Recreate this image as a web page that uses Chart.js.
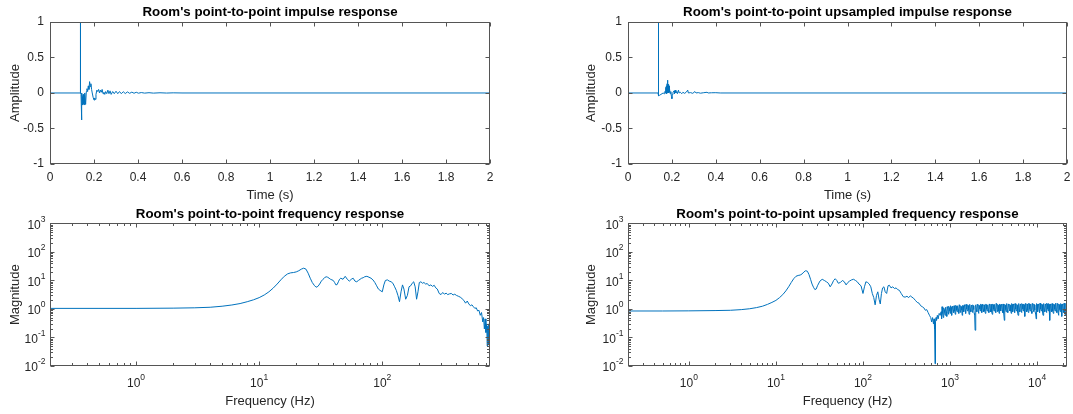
<!DOCTYPE html>
<html lang="en">
<head>
  <meta charset="UTF-8" />
  <title>Room point-to-point response</title>
  <script src="https://cdn.jsdelivr.net/npm/chart.js"></script>
  <style>
    body { margin: 0; background: #fff; }
    #fig { position: relative; width: 1073px; height: 414px; }
    #fig canvas { position: absolute; }
  </style>
</head>
<body>
  <div id="fig">
    <canvas id="irPlot" width="536" height="207" style="left:0;top:0"></canvas>
    <canvas id="irUpPlot" width="537" height="207" style="left:536px;top:0"></canvas>
    <canvas id="frPlot" width="536" height="214" style="left:0;top:200px"></canvas>
    <canvas id="frUpPlot" width="537" height="214" style="left:536px;top:200px"></canvas>
  </div>

  <script>
    // ---- tick values ----
    const timeTicks = [0, 0.2, 0.4, 0.6, 0.8, 1, 1.2, 1.4, 1.6, 1.8, 2];
    const ampTicks = [-1, -0.5, 0, 0.5, 1];
    const magTicks = [0.01, 0.1, 1, 10, 100, 1000];
    const freqTicks = [1, 10, 100];
    const freqUpTicks = [1, 10, 100, 1000, 10000];

    // ---- impulse response (s, amplitude) ----
    const irTime = [
      0, 0.137, 0.138, 0.139, 0.141, 0.143, 0.145, 0.147, 0.149, 0.151,
      0.153, 0.155, 0.157, 0.159, 0.162, 0.165, 0.168, 0.171, 0.174, 0.177,
      0.180, 0.183, 0.186, 0.189, 0.192, 0.196, 0.200, 0.203, 0.206, 0.209,
      0.213, 0.217, 0.221, 0.225, 0.229, 0.233, 0.237, 0.241, 0.245, 0.249,
      0.253, 0.258, 0.263, 0.268, 0.273, 0.278, 0.285, 0.292, 0.300, 0.308,
      0.316, 0.324, 0.333, 0.342, 0.352, 0.362, 0.372, 0.382, 0.392, 0.402,
      0.415, 0.430, 0.450, 0.470, 0.500, 0.530, 0.560, 0.600, 2.0
    ];
    const irAmp = [
      0, 0, 1, 0, -0.02, -0.38, 0, -0.05, -0.17, -0.02,
      -0.15, -0.03, -0.17, 0, -0.16, 0.02, 0.06, 0.02, 0.1, 0.05,
      0.16, 0.09, 0.13, 0.05, 0, -0.06, -0.1, -0.07, -0.09, -0.02,
      0.04, 0.02, 0.05, 0, 0.04, 0.01, 0.05, -0.01, 0.01, -0.02,
      0.02, -0.01, 0.04, -0.01, 0.03, -0.02, 0.02, -0.01, 0.025, -0.01,
      0.02, -0.01, 0.018, -0.008, 0.015, -0.005, 0.012, -0.004, 0.01, -0.003,
      0.006, -0.002, 0.004, -0.002, 0.003, -0.001, 0.002, 0, 0
    ];

    // ---- upsampled impulse response ----
    const irUpTime = [
      0, 0.137, 0.138, 0.139, 0.140, 0.145, 0.150, 0.155, 0.160, 0.165,
      0.168, 0.170, 0.172, 0.173, 0.175, 0.176, 0.178, 0.179, 0.181, 0.182,
      0.184, 0.185, 0.187, 0.188, 0.190, 0.192, 0.195, 0.198, 0.200, 0.202,
      0.205, 0.210, 0.212, 0.215, 0.218, 0.222, 0.225, 0.230, 0.233, 0.238,
      0.245, 0.250, 0.258, 0.265, 0.272, 0.275, 0.285, 0.295, 0.305, 0.310,
      0.320, 0.330, 0.345, 0.360, 0.365, 0.380, 0.400, 0.420, 2.0
    ];
    const irUpAmp = [
      0, 0, 1, 0, -0.04, -0.03, -0.02, -0.01, 0, -0.01,
      0.02, 0, 0.08, 0, 0.1, -0.01, 0.13, 0, 0.18, 0.02,
      0.12, 0, 0.1, 0.01, 0.06, -0.01, 0.02, -0.05, -0.08, -0.02,
      0.01, 0.03, -0.01, 0.04, 0, 0.02, -0.01, 0.04, 0, 0.01,
      -0.01, 0.01, -0.005, 0.01, 0.04, 0, 0.005, -0.005, 0.02, 0,
      0.005, -0.003, 0.004, 0.01, 0, 0.003, 0.004, 0, 0
    ];

    // ---- frequency response (Hz, magnitude) ----
    const frFreq = [
      0.2, 0.5, 1, 2, 3, 4, 5, 6, 7, 8,
      9, 10, 11, 12, 13, 14, 15, 16, 17, 18,
      19, 20, 21, 22, 23, 24, 25, 26, 27, 28,
      29, 30, 31, 32, 33, 34, 35, 36, 37, 38,
      39, 40, 41, 42, 43, 44, 45, 46, 48, 50,
      52, 54, 56, 58, 60, 62, 64, 66, 68, 70,
      72, 75, 78, 81, 84, 87, 90, 93, 96, 100,
      103, 106, 110, 114, 118, 122, 126, 130, 134, 138,
      142, 146, 150, 155, 160, 165, 170, 175, 180, 185,
      190, 195, 200, 206, 212, 218, 225, 232, 240, 248,
      256, 264, 272, 280, 290, 300, 310, 320, 330, 340,
      352, 364, 376, 388, 400, 415, 430, 445, 460, 475,
      490, 505, 520, 535, 550, 565, 580, 595, 610, 625,
      640, 655, 665, 675, 685, 695, 705, 712, 718, 724,
      730, 736, 742, 746, 750
    ];
    const frMag = [
      1.05, 1.05, 1.05, 1.07, 1.1, 1.15, 1.25, 1.38, 1.55, 1.8,
      2.1, 2.5, 3.1, 4.0, 5.4, 7.5, 10.5, 14, 17, 18.5,
      19, 20, 22, 25, 27, 25, 18, 12, 8.5, 6.8,
      5.8, 6.2, 7.5, 9.5, 11, 12.5, 13.5, 13, 12, 11,
      10.5, 10, 8.5, 7, 7.2, 9, 11, 12, 11, 14,
      11, 9.5, 11, 12, 9.5, 9, 10, 11, 12, 12.5,
      13.5, 14, 13, 12, 10.5, 8.5, 6.5, 5, 4.5, 4,
      7, 10, 10.5, 9.5, 9, 8, 6, 4.5, 3, 1.8,
      4, 7, 5, 2.2, 3, 6, 6.5, 8, 9, 6,
      2.2, 4, 8.5, 9, 8, 8.5, 7.5, 7.8, 6.5, 7,
      6.2, 6.8, 5.5, 5, 3.5, 3.2, 3.8, 3.3, 3.6, 3.2,
      3.4, 3.5, 3.1, 3.3, 3, 2.8, 2.6, 2.3, 2.0, 1.6,
      1.9, 1.5, 1.3, 1.4, 1.2, 1.05, 1.1, 0.85, 0.9, 0.6,
      0.75, 0.35, 0.5, 0.2, 0.45, 0.15, 0.3, 0.05, 0.25, 0.1,
      0.3, 0.06, 0.2, 0.08, 0.012
    ];

    // ---- upsampled frequency response: room part ----
    const frUpFreq = [
      0.2, 0.5, 1, 2, 3, 4, 5, 6, 7, 8,
      9, 10, 11, 12, 13, 14, 15, 16, 17, 18,
      19, 20, 21, 22, 23, 24, 25, 26, 27, 28,
      29, 30, 32, 34, 36, 38, 40, 42, 44, 46,
      48, 50, 52, 55, 58, 61, 64, 67, 70, 74,
      78, 82, 86, 90, 95, 100, 104, 108, 113, 118,
      123, 128, 133, 138, 143, 148, 153, 158, 163, 168,
      174, 180, 187, 194, 201, 210, 220, 230, 240, 250,
      262, 275, 290, 305, 320, 335, 350, 365, 380, 400,
      420, 440, 460, 480, 500, 520, 540, 560, 580, 600,
      615, 630, 645, 655, 665, 672, 678, 684, 690, 700,
      715, 730, 750, 770, 790
    ];
    const frUpMag = [
      0.85, 0.85, 0.86, 0.88, 0.9, 0.95, 1.02, 1.12, 1.25, 1.45,
      1.7, 2.0, 2.5, 3.2, 4.3, 6, 8.5, 11.5, 14, 15,
      15.5, 17, 20, 22, 21, 16, 11, 7.5, 5.8, 4.8,
      5, 6.5, 9.5, 11, 10, 9, 8, 6, 7.5, 10,
      11.5, 10, 8, 8.5, 10, 9, 7, 8.5, 9.5, 10.5,
      11, 10, 9, 7.5, 6.5, 3.5, 6, 9, 8.5, 7.5,
      6, 3.5, 2.5, 1.4, 3, 4, 2.2, 1.5, 3.5, 5.5,
      6, 4, 3.5, 6.5, 6.8, 5.5, 6, 5.2, 5.5, 4.8,
      4.5, 3.5, 2.7, 2.6, 2.8, 2.5, 2.9, 2.6, 2.4, 2.0,
      1.7, 1.6, 1.3, 1.2, 1.1, 0.9, 0.95, 0.75, 0.6, 0.5,
      0.35, 0.5, 0.3, 0.45, 0.2, 0.012, 0.15, 0.35, 0.5, 0.4,
      0.6, 0.45, 0.7, 0.6, 0.8
    ];

    // ---- upsampled frequency response: noisy band above 800 Hz ----
    const bandFreq = [
      800, 818, 837, 856, 876, 896, 917, 938, 959, 981,
      1004, 1027, 1050, 1074, 1099, 1124, 1150, 1177, 1204, 1231,
      1260, 1289, 1318, 1349, 1380, 1411, 1444, 1477, 1511, 1546,
      1581, 1618, 1655, 1693, 1732, 1772, 1812, 1854, 1897, 1940,
      1985, 2030, 2077, 2125, 2174, 2224, 2275, 2327, 2381, 2435,
      2491, 2549, 2607, 2667, 2729, 2791, 2856, 2921, 2989, 3057,
      3128, 3200, 3273, 3348, 3425, 3504, 3585, 3667, 3752, 3838,
      3926, 4016, 4109, 4203, 4300, 4399, 4500, 4604, 4710, 4818,
      4929, 5042, 5158, 5277, 5398, 5522, 5649, 5779, 5912, 6048,
      6187, 6329, 6475, 6624, 6776, 6932, 7092, 7255, 7422, 7592,
      7767, 7946, 8128, 8315, 8507, 8702, 8903, 9107, 9317, 9531,
      9750, 9975, 10204, 10439, 10679, 10925, 11176, 11433, 11696, 11965,
      12240, 12522, 12810, 13104, 13406, 13714, 14030, 14352, 14682, 15020,
      15366, 15719, 16081, 16451, 16829, 17216, 17612, 18017, 18431, 18855,
      19289, 19733, 20187, 20651, 21126, 21612, 22050
    ];
    const bandMag = [
      0.45, 0.9, 0.5, 0.95, 0.6, 1.0, 0.55, 1.05, 0.65, 1.1,
      0.7, 1.15, 0.6, 1.2, 0.75, 1.1, 0.65, 1.25, 0.8, 1.2,
      0.7, 1.3, 0.75, 1.2, 0.6, 1.3, 0.8, 1.25, 0.7, 1.35,
      0.85, 1.3, 0.65, 1.35, 0.8, 1.25, 0.75, 1.3, 0.7, 0.18,
      1.3, 0.8, 1.35, 0.7, 1.3, 0.85, 1.4, 0.75, 1.3, 0.8,
      1.35, 0.7, 1.4, 0.85, 1.3, 0.75, 1.4, 0.8, 1.35, 0.65,
      1.4, 0.85, 1.35, 0.75, 1.45, 0.8, 1.35, 0.7, 1.4, 0.85,
      1.35, 0.75, 1.4, 0.4, 1.35, 0.8, 1.45, 0.75, 1.4, 0.85,
      1.35, 0.7, 1.45, 0.8, 1.4, 0.75, 1.45, 0.85, 1.35, 0.6,
      1.45, 0.8, 1.4, 0.75, 1.45, 0.85, 1.4, 0.55, 1.45, 0.8,
      1.4, 0.75, 1.5, 0.85, 1.4, 0.7, 1.45, 0.8, 1.4, 0.75,
      0.45, 1.45, 0.8, 1.4, 0.75, 1.5, 0.85, 1.4, 0.6, 1.45,
      0.8, 1.4, 0.75, 1.5, 0.85, 1.45, 0.4, 1.4, 0.8, 1.45,
      0.7, 1.4, 0.85, 1.5, 0.75, 1.45, 0.6, 1.4, 0.8, 1.45,
      0.55, 1.4, 0.75, 1.5, 0.6, 1.45, 0.8
    ];
    // in-between bins of the same band
    const bandMidFreq = [
      809, 827, 846, 866, 886, 906, 927, 948, 970, 992,
      1015, 1038, 1062, 1086, 1111, 1137, 1163, 1190, 1217, 1245,
      1274, 1303, 1333, 1364, 1395, 1427, 1460, 1494, 1528, 1563,
      1599, 1636, 1674, 1712, 1752, 1792, 1833, 1875, 1918, 1962,
      2007, 2053, 2101, 2149, 2199, 2249, 2301, 2354, 2408, 2463,
      2520, 2578, 2637, 2698, 2760, 2823, 2888, 2955, 3023, 3092,
      3164, 3236, 3310, 3386, 3464, 3544, 3626, 3709, 3795, 3882,
      3971, 4062, 4156, 4251, 4349, 4449, 4552, 4657, 4764, 4873,
      4985, 5100, 5217, 5337, 5460, 5585, 5714, 5845, 5980, 6117,
      6258, 6402, 6549, 6700, 6854, 7012, 7173, 7338, 7507, 7679,
      7856, 8037, 8221, 8411, 8604, 8802, 9005, 9212, 9424, 9640,
      9862, 10089, 10321, 10559, 10802, 11050, 11304, 11564, 11830, 12102,
      12381, 12666, 12957, 13255, 13560, 13872, 14191, 14517, 14851, 15193,
      15542, 15900, 16266, 16640, 17022, 17414, 17814, 18224, 18643, 19072,
      19511, 19960, 20419, 20888, 21369, 21831
    ];
    const bandMidMag = [
      1.2, 0.7, 1.1, 0.75, 1.15, 0.8, 1.2, 0.8, 1.25, 0.85,
      1.3, 0.8, 1.25, 0.9, 1.3, 0.85, 1.35, 0.9, 1.3, 0.95,
      1.4, 0.85, 1.3, 0.9, 1.35, 0.95, 1.4, 0.9, 1.45, 1.0,
      1.4, 0.9, 1.45, 0.95, 1.35, 0.85, 1.4, 0.95, 0.6, 1.4,
      0.95, 1.45, 0.9, 1.4, 1.0, 1.5, 0.9, 1.45, 0.95, 1.4,
      0.85, 1.5, 1.0, 1.4, 0.9, 1.5, 0.95, 1.45, 0.8, 1.5,
      1.0, 1.45, 0.9, 1.55, 0.95, 1.45, 0.85, 1.5, 1.0, 1.45,
      0.9, 1.5, 0.7, 1.45, 0.95, 1.55, 0.9, 1.5, 1.0, 1.45,
      0.85, 1.55, 0.95, 1.5, 0.9, 1.55, 1.0, 1.45, 0.75, 1.55,
      0.95, 1.5, 0.9, 1.55, 1.0, 1.5, 0.7, 1.55, 0.95, 1.5,
      0.9, 1.6, 1.0, 1.5, 0.85, 1.55, 0.95, 1.5, 0.9, 0.65,
      1.55, 0.95, 1.5, 0.9, 1.6, 1.0, 1.5, 0.75, 1.55, 0.95,
      1.5, 0.9, 1.6, 1.0, 1.55, 0.6, 1.5, 0.95, 1.55, 0.85,
      1.5, 1.0, 1.6, 0.9, 1.55, 0.75, 1.5, 0.95, 1.55, 0.7,
      1.5, 0.9, 1.6, 0.75, 1.55, 0.95
    ];

    const AXIS_COLOR = '#262626';
    const BOX_COLOR = '#555555';
    const LINE_COLOR = '#0072BD';
    const FONT = "'Liberation Sans', Arial, Helvetica, sans-serif";
    const TICK_SIZE = 12;
    const SUP_SIZE = 8.5;
    const LABEL_SIZE = 13;
    const TITLE_SIZE = 13.3;

    function toPoints(xs, ys) {
      return xs.map((x, i) => ({ x: x, y: ys[i] }));
    }

    // minor log ticks (2..9 x 10^n) between min and max
    function minorLog(min, max) {
      const out = [];
      for (let e = Math.floor(Math.log10(min)); e <= Math.ceil(Math.log10(max)); e++) {
        for (let k = 2; k <= 9; k++) {
          const v = k * Math.pow(10, e);
          if (v > min && v < max) out.push(v);
        }
      }
      return out;
    }

    function fmtLinear(v) {
      return String(Number(Number(v).toFixed(2)));
    }

    // "10" with a raised exponent
    function powLabel(ctx, v, x, y, align) {
      const exp = String(Math.round(Math.log10(v)));
      ctx.font = TICK_SIZE + 'px ' + FONT;
      const bw = ctx.measureText('10').width;
      ctx.font = SUP_SIZE + 'px ' + FONT;
      const ew = ctx.measureText(exp).width;
      const x0 = align === 'center' ? x - (bw + ew) / 2 : x - bw - ew;
      ctx.textAlign = 'left';
      ctx.textBaseline = 'middle';
      ctx.font = TICK_SIZE + 'px ' + FONT;
      ctx.fillText('10', x0, y);
      ctx.font = SUP_SIZE + 'px ' + FONT;
      ctx.fillText(exp, x0 + bw, y - 6);
    }

    // box, inward ticks on all four sides, and log labels
    const matlabAxes = {
      id: 'matlabAxes',
      afterDatasetsDraw(chart, args, opts) {
        const ctx = chart.ctx;
        const a = chart.chartArea;
        const sx = chart.scales.x, sy = chart.scales.y;
        const L = Math.round(a.left) + 0.5, R = Math.round(a.right) - 0.5;
        const T = Math.round(a.top) + 0.5, B = Math.round(a.bottom) - 0.5;
        const MAJ = 4, MIN = 2.5;

        ctx.save();
        ctx.strokeStyle = BOX_COLOR;
        ctx.lineWidth = 1;
        ctx.beginPath();
        const tickX = (v, len) => {
          const p = Math.round(sx.getPixelForValue(v)) + 0.5;
          ctx.moveTo(p, B); ctx.lineTo(p, B - len);
          ctx.moveTo(p, T); ctx.lineTo(p, T + len);
        };
        const tickY = (v, len) => {
          const p = Math.round(sy.getPixelForValue(v)) + 0.5;
          ctx.moveTo(L, p); ctx.lineTo(L + len, p);
          ctx.moveTo(R, p); ctx.lineTo(R - len, p);
        };
        opts.xTicks.forEach(v => tickX(v, MAJ));
        opts.yTicks.forEach(v => tickY(v, MAJ));
        if (opts.logX) minorLog(sx.min, sx.max).forEach(v => tickX(v, MIN));
        if (opts.logY) minorLog(sy.min, sy.max).forEach(v => tickY(v, MIN));
        ctx.stroke();
        ctx.strokeRect(L, T, R - L, B - T);

        ctx.fillStyle = AXIS_COLOR;
        if (opts.logX) {
          opts.xTicks.forEach(v => powLabel(ctx, v, sx.getPixelForValue(v), B + 18, 'center'));
        }
        if (opts.logY) {
          opts.yTicks.forEach(v => powLabel(ctx, v, L - 5, sy.getPixelForValue(v) + 2, 'right'));
        }
        ctx.restore();
      }
    };

    function zeroPad(s) {
      s.paddingLeft = 0; s.paddingRight = 0; s.paddingTop = 0; s.paddingBottom = 0;
    }

    function plot(id, cfg) {
      const tickFont = { family: FONT, size: TICK_SIZE };
      const labelFont = { family: FONT, size: LABEL_SIZE };
      return new Chart(document.getElementById(id), {
        type: 'line',
        data: {
          datasets: [{
            data: cfg.points,
            borderColor: LINE_COLOR,
            borderWidth: 1,
            pointRadius: 0,
            tension: 0,
            fill: false
          }]
        },
        options: {
          responsive: false,
          animation: false,
          events: [],
          layout: { padding: cfg.pad },
          plugins: {
            legend: { display: false },
            tooltip: { enabled: false },
            title: {
              display: true,
              text: cfg.title,
              fullSize: false,
              color: '#000',
              font: { family: FONT, size: TITLE_SIZE, weight: 'bold' },
              padding: cfg.titlePad
            },
            matlabAxes: { logX: cfg.logX, logY: cfg.logY, xTicks: cfg.xTicks, yTicks: cfg.yTicks }
          },
          scales: {
            x: {
              type: cfg.logX ? 'logarithmic' : 'linear',
              min: cfg.xMin,
              max: cfg.xMax,
              bounds: 'data',
              grid: { display: false, drawTicks: false },
              border: { display: false },
              afterBuildTicks: s => { s.ticks = cfg.xTicks.map(v => ({ value: v })); },
              afterFit: s => { s.height = cfg.xAxisH; zeroPad(s); },
              ticks: {
                display: !cfg.logX,
                autoSkip: false,
                maxRotation: 0,
                padding: 6,
                color: AXIS_COLOR,
                font: tickFont,
                callback: v => fmtLinear(v)
              },
              title: {
                display: true,
                text: cfg.xLabel,
                color: AXIS_COLOR,
                font: labelFont,
                padding: { top: 0, bottom: cfg.xTitlePad }
              }
            },
            y: {
              type: cfg.logY ? 'logarithmic' : 'linear',
              min: cfg.yMin,
              max: cfg.yMax,
              bounds: 'data',
              grid: { display: false, drawTicks: false },
              border: { display: false },
              afterBuildTicks: s => { s.ticks = cfg.yTicks.map(v => ({ value: v })); },
              afterFit: s => { s.width = 50; zeroPad(s); },
              ticks: {
                display: !cfg.logY,
                autoSkip: false,
                padding: 6,
                color: AXIS_COLOR,
                font: tickFont,
                callback: v => fmtLinear(v)
              },
              title: {
                display: true,
                text: cfg.yLabel,
                color: AXIS_COLOR,
                font: labelFont,
                padding: { top: cfg.yTitlePad, bottom: 0 }
              }
            }
          }
        },
        plugins: [matlabAxes]
      });
    }

    const leftPad = { left: 0, right: 46, top: 0, bottom: 0 };
    const rightPad = { left: 42, right: 6, top: 0, bottom: 0 };

    // the noisy band: both sets of bins, in frequency order
    const bandPoints = toPoints(bandFreq, bandMag)
      .concat(toPoints(bandMidFreq, bandMidMag))
      .sort((p, q) => p.x - q.x);

    plot('irPlot', {
      points: toPoints(irTime, irAmp),
      title: "Room's point-to-point impulse response",
      xLabel: 'Time (s)', yLabel: 'Amplitude',
      xMin: 0, xMax: 2, yMin: -1, yMax: 1,
      xTicks: timeTicks, yTicks: ampTicks,
      pad: leftPad, titlePad: { top: 4, bottom: 2 },
      xAxisH: 43, xTitlePad: 4.2, yTitlePad: 7.2
    });

    plot('irUpPlot', {
      points: toPoints(irUpTime, irUpAmp),
      title: "Room's point-to-point upsampled impulse response",
      xLabel: 'Time (s)', yLabel: 'Amplitude',
      xMin: 0, xMax: 2, yMin: -1, yMax: 1,
      xTicks: timeTicks, yTicks: ampTicks,
      pad: rightPad, titlePad: { top: 4, bottom: 2 },
      xAxisH: 43, xTitlePad: 4.2, yTitlePad: 5.2
    });

    plot('frPlot', {
      points: toPoints(frFreq, frMag),
      title: "Room's point-to-point frequency response",
      xLabel: 'Frequency (Hz)', yLabel: 'Magnitude',
      logX: true, logY: true,
      xMin: 0.2, xMax: 750, yMin: 0.01, yMax: 1000,
      xTicks: freqTicks, yTicks: magTicks,
      pad: leftPad, titlePad: { top: 6, bottom: 1.5 },
      xAxisH: 48, xTitlePad: 5.2, yTitlePad: 7.2
    });

    plot('frUpPlot', {
      points: toPoints(frUpFreq, frUpMag).concat(bandPoints),
      title: "Room's point-to-point upsampled frequency response",
      xLabel: 'Frequency (Hz)', yLabel: 'Magnitude',
      logX: true, logY: true,
      xMin: 0.2, xMax: 22050, yMin: 0.01, yMax: 1000,
      xTicks: freqUpTicks, yTicks: magTicks,
      pad: rightPad, titlePad: { top: 6, bottom: 1.5 },
      xAxisH: 48, xTitlePad: 5.2, yTitlePad: 5.2
    });
  </script>
</body>
</html>
